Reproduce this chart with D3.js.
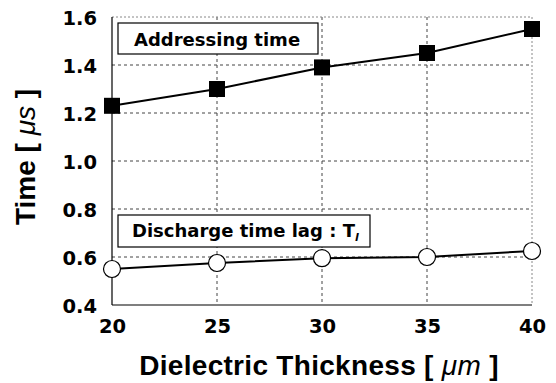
<!DOCTYPE html>
<html>
<head>
<meta charset="utf-8">
<script src="https://cdn.jsdelivr.net/npm/d3@7"></script>
<style>
  body { margin: 0; background: #fff; }
  text { font-family: "Liberation Sans", Arial, sans-serif; }
</style>
</head>
<body>
<div id="chart"></div>
<script>
// data
var thickness = [20, 25, 30, 35, 40];
var addressingTime = [1.23, 1.30, 1.39, 1.45, 1.55];
var dischargeLag = [0.55, 0.575, 0.595, 0.60, 0.625];
var yTicks = [0.4, 0.6, 0.8, 1.0, 1.2, 1.4, 1.6];

var W = 556, H = 383;
var margin = {top: 17, right: 24, bottom: 78, left: 112},
    width = W - margin.left - margin.right,
    height = H - margin.top - margin.bottom;

var tickFont = "'DejaVu Sans', Verdana, sans-serif";

var svg = d3.select("#chart").append("svg")
    .attr("width", W).attr("height", H);

var g = svg.append("g").attr("transform", "translate(" + margin.left + "," + margin.top + ")");

var x = d3.scaleLinear().domain([20, 40]).range([0, width]);
var y = d3.scaleLinear().domain([0.4, 1.6]).range([height, 0]);

// grid
g.selectAll(".hgrid").data(yTicks.slice(1, -1)).enter().append("line")
    .attr("x1", 0).attr("x2", width)
    .attr("y1", function(d) { return y(d); }).attr("y2", function(d) { return y(d); })
    .style("stroke", "#444").style("stroke-width", 1).style("stroke-dasharray", "3,3");
g.selectAll(".vgrid").data(thickness.slice(1, -1)).enter().append("line")
    .attr("y1", 0).attr("y2", height)
    .attr("x1", function(d) { return x(d); }).attr("x2", function(d) { return x(d); })
    .style("stroke", "#444").style("stroke-width", 1).style("stroke-dasharray", "3,3");

// frame: top/right light dotted, left/bottom solid
g.append("line").attr("x1", 0).attr("x2", width).attr("y1", 0).attr("y2", 0)
    .style("stroke", "#888").style("stroke-dasharray", "2,2");
g.append("line").attr("x1", width).attr("x2", width).attr("y1", 0).attr("y2", height)
    .style("stroke", "#888").style("stroke-dasharray", "2,2");
g.append("line").attr("x1", 0).attr("x2", 0).attr("y1", 0).attr("y2", height)
    .style("stroke", "#000").style("stroke-width", 1.2);
g.append("line").attr("x1", 0).attr("x2", width).attr("y1", height).attr("y2", height)
    .style("stroke", "#000").style("stroke-width", 1.2);

// axes (labels only)
var yAxis = d3.axisLeft(y).tickValues(yTicks).tickFormat(d3.format(".1f")).tickSize(0).tickPadding(15);
var xAxis = d3.axisBottom(x).tickValues(thickness).tickSize(0).tickPadding(0);

var ya = g.append("g").call(yAxis);
ya.select(".domain").remove();
ya.selectAll("text").style("font-family", tickFont).style("font-size", "19.5px")
    .style("font-weight", "bold").attr("fill", "#000").attr("dy", "0.36em");

var xa = g.append("g").attr("transform", "translate(0," + height + ")").call(xAxis);
xa.select(".domain").remove();
xa.selectAll("text").style("font-family", tickFont).style("font-size", "19.5px")
    .style("font-weight", "bold").attr("fill", "#000").attr("y", 28).attr("dy", 0);

// lines
var line1 = d3.line().x(function(d, i) { return x(thickness[i]); }).y(function(d) { return y(d); });
g.append("path").datum(addressingTime).attr("d", line1)
    .style("fill", "none").style("stroke", "#000").style("stroke-width", 2);
g.append("path").datum(dischargeLag).attr("d", line1)
    .style("fill", "none").style("stroke", "#000").style("stroke-width", 2);

// markers
var sq = 16;
g.selectAll(".sq").data(addressingTime).enter().append("rect")
    .attr("x", function(d, i) { return x(thickness[i]) - sq / 2; })
    .attr("y", function(d) { return y(d) - sq / 2; })
    .attr("width", sq).attr("height", sq)
    .style("fill", "#000");
g.selectAll(".ci").data(dischargeLag).enter().append("circle")
    .attr("cx", function(d, i) { return x(thickness[i]); })
    .attr("cy", function(d) { return y(d); })
    .attr("r", 8.5)
    .style("fill", "#fff").style("stroke", "#000").style("stroke-width", 1.2);

// legend boxes
g.append("rect").attr("x", 6).attr("y", 6).attr("width", 200).attr("height", 31)
    .style("fill", "#fff").style("stroke", "#000").style("stroke-width", 1.2);
g.append("text").attr("x", 22).attr("y", 29)
    .style("font-family", tickFont).style("font-size", "18px").style("font-weight", "bold")
    .text("Addressing time");

g.append("rect").attr("x", 6).attr("y", 198).attr("width", 252).attr("height", 32)
    .style("fill", "#fff").style("stroke", "#000").style("stroke-width", 1.2);
var t2 = g.append("text").attr("x", 20).attr("y", 220)
    .style("font-family", tickFont).style("font-size", "18px").style("font-weight", "bold");
t2.append("tspan").text("Discharge time lag : T");
t2.append("tspan").attr("dy", 4).style("font-size", "11px").style("font-style", "italic").text("l");

// axis titles
var yt = svg.append("text")
    .attr("transform", "translate(35,157) rotate(-90)")
    .attr("text-anchor", "middle")
    .style("font-size", "28px").style("font-weight", "bold");
yt.append("tspan").text("Time [ ");
yt.append("tspan").style("font-style", "italic").style("font-weight", "normal").text("\u03bcs");
yt.append("tspan").text(" ]");

var xt = svg.append("text")
    .attr("x", 319).attr("y", 375)
    .attr("text-anchor", "middle")
    .style("font-size", "28px").style("font-weight", "bold").style("letter-spacing", "0.3px");
xt.append("tspan").text("Dielectric Thickness [ ");
xt.append("tspan").style("font-style", "italic").style("font-weight", "normal").text("\u03bcm");
xt.append("tspan").text(" ]");
</script>
</body>
</html>
